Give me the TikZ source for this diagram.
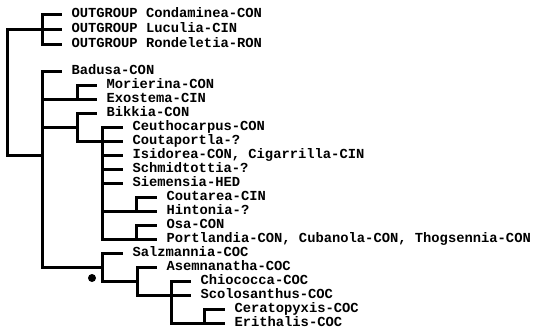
\documentclass[tikz,border=0pt]{standalone}
\usepackage{fontspec}
\setmainfont{Liberation Mono}
\begin{document}
\begin{tikzpicture}[x=1pt,y=-1pt,line width=3pt,line cap=rect,
  leaf/.style={anchor=west,inner sep=0pt,font=\bfseries\fontsize{13.8pt}{14pt}\selectfont,text height=0.6em,text depth=0pt}]
\useasboundingbox (0,0) rectangle (538,330);
% leaves
\node[leaf] (L1) at (70,14) {OUTGROUP Condaminea-CON};
\node[leaf] (L2) at (70,29) {OUTGROUP Luculia-CIN};
\node[leaf] (L3) at (70,44) {OUTGROUP Rondeletia-RON};
\node[leaf] (L4) at (70,71) {Badusa-CON};
\node[leaf] (L5) at (105,85) {Morierina-CON};
\node[leaf] (L6) at (105,99) {Exostema-CIN};
\node[leaf] (L7) at (105,113) {Bikkia-CON};
\node[leaf] (L8) at (131,127) {Ceuthocarpus-CON};
\node[leaf] (L9) at (131,141) {Coutaportla-?};
\node[leaf] (L10) at (131,155) {Isidorea-CON, Cigarrilla-CIN};
\node[leaf] (L11) at (131,169) {Schmidtottia-?};
\node[leaf] (L12) at (131,183) {Siemensia-HED};
\node[leaf] (L13) at (165,197) {Coutarea-CIN};
\node[leaf] (L14) at (165,211) {Hintonia-?};
\node[leaf] (L15) at (165,225) {Osa-CON};
\node[leaf] (L16) at (165,239) {Portlandia-CON, Cubanola-CON, Thogsennia-CON};
\node[leaf] (L17) at (131,253) {Salzmannia-COC};
\node[leaf] (L18) at (165,267) {Asemnanatha-COC};
\node[leaf] (L19) at (199,281) {Chiococca-COC};
\node[leaf] (L20) at (199,295) {Scolosanthus-COC};
\node[leaf] (L21) at (233,309) {Ceratopyxis-COC};
\node[leaf] (L22) at (233,323) {Erithalis-COC};
% internal nodes
\coordinate (r1) at (7,29);
\coordinate (r2) at (7,155);
\coordinate (og) at (42,29);
\coordinate (in) at (42,155);
\coordinate (me) at (77,99);
\coordinate (bks) at (42,127);
\coordinate (bk) at (77,127);
\coordinate (pts) at (77,141);
\coordinate (pt) at (102,141);
\coordinate (ch) at (136,211);
\coordinate (op) at (136,239);
\coordinate (szs) at (42,267);
\coordinate (sz) at (102,267);
\coordinate (ass) at (102,281);
\coordinate (as) at (137,281);
\coordinate (css) at (137,295);
\coordinate (cs) at (171,295);
\coordinate (ce) at (204,323);
\tikzset{gap/.style={xshift=-9.5pt}}
% root
\draw (r1) -- (r2);
\draw (r1) -- (og);
\draw (r2) -- (in);
% outgroup
\draw (og |- L1.west) -- (og |- L3.west);
\foreach \l in {L1,L2,L3} \draw (og |- \l.west) -- ([gap]\l.west);
% ingroup
\draw (in |- L4.west) -- (szs);
\draw (in |- L4.west) -- ([gap]L4.west);
\draw (in |- me) -- (me);
\draw (me |- L5.west) -- (me |- L6.west);
\foreach \l in {L5,L6} \draw (me |- \l.west) -- ([gap]\l.west);
\draw (bks) -- (bk);
\draw (bk |- L7.west) -- (bk |- pts);
\draw (bk |- L7.west) -- ([gap]L7.west);
\draw (pts) -- (pt);
\draw (pt |- L8.west) -- (pt |- L16.west);
\foreach \l in {L8,L9,L10,L11,L12} \draw (pt |- \l.west) -- ([gap]\l.west);
\draw (pt |- ch) -- (ch);
\draw (ch |- L13.west) -- (ch |- L14.west);
\foreach \l in {L13,L14} \draw (ch |- \l.west) -- ([gap]\l.west);
\draw (pt |- op) -- (op);
\draw (op |- L15.west) -- (op |- L16.west);
\foreach \l in {L15,L16} \draw (op |- \l.west) -- ([gap]\l.west);
% Chiococceae clade
\draw (szs) -- (sz);
\draw (sz |- L17.west) -- (sz |- ass);
\draw (sz |- L17.west) -- ([gap]L17.west);
\draw (ass) -- (as);
\draw (as |- L18.west) -- (as |- css);
\draw (as |- L18.west) -- ([gap]L18.west);
\draw (css) -- (cs);
\draw (cs |- L19.west) -- (cs |- L22.west);
\foreach \l in {L19,L20} \draw (cs |- \l.west) -- ([gap]\l.west);
\draw (cs |- ce) -- (ce);
\draw (ce |- L21.west) -- (ce |- L22.west);
\foreach \l in {L21,L22} \draw (ce |- \l.west) -- ([gap]\l.west);
\node[circle,fill,inner sep=0pt,minimum size=8pt] (dot) at (92,278) {};
\end{tikzpicture}
\end{document}
